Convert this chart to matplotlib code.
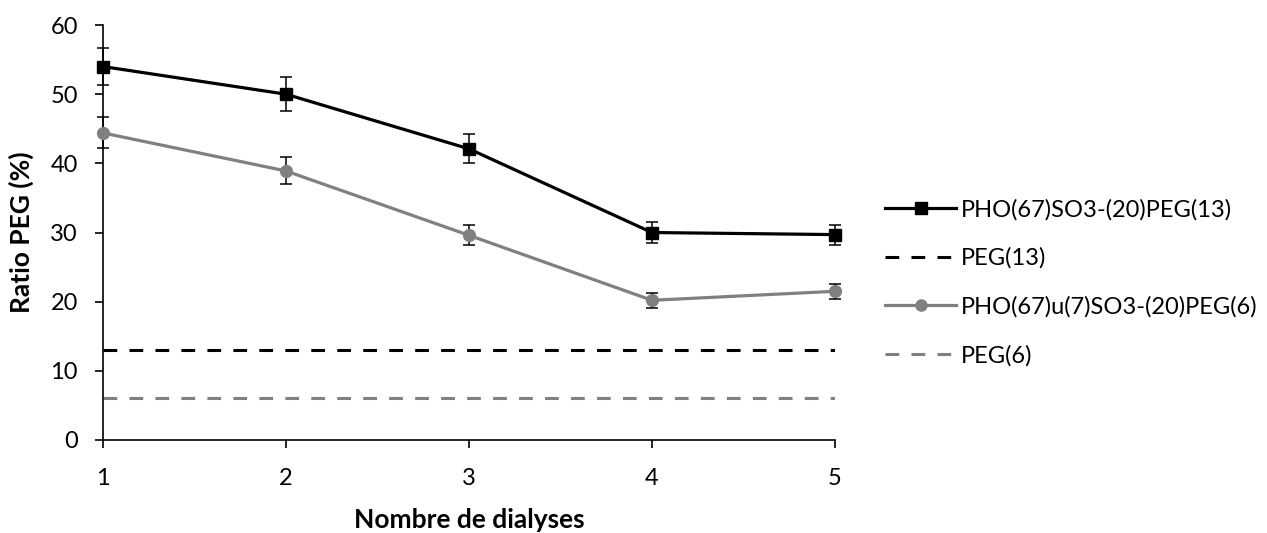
import matplotlib.pyplot as plt
from matplotlib.lines import Line2D

plt.rcParams['font.family'] = ['Lato', 'DejaVu Sans']

dialyses = [1, 2, 3, 4, 5]
peg13_ratio = [54.0, 50.0, 42.1, 30.0, 29.7]
peg13_err = [2.7, 2.5, 2.1, 1.5, 1.45]
peg6_ratio = [44.4, 38.9, 29.6, 20.2, 21.5]
peg6_err = [2.25, 1.95, 1.45, 1.05, 1.1]
peg13_ref = [13, 13, 13, 13, 13]
peg6_ref = [6, 6, 6, 6, 6]

gray = '#808080'
dash = (0, (4.5, 4))

fig = plt.figure(figsize=(12.67, 5.33), dpi=100)
ax = fig.add_axes([0.0813, 0.1745, 0.5777, 0.7785])

ax.errorbar(dialyses, peg13_ratio, yerr=peg13_err, color='black', lw=2.3,
            marker='s', ms=8.5, ecolor='black', elinewidth=1.1, capsize=4,
            capthick=1.1, zorder=4, clip_on=False)
ax.plot(dialyses, peg13_ref, color='black', lw=2.2, ls=dash)
ax.errorbar(dialyses, peg6_ratio, yerr=peg6_err, color=gray, lw=2.3,
            marker='o', ms=8.5, ecolor='black', elinewidth=1.1, capsize=4,
            capthick=1.1, zorder=3, clip_on=False)
ax.plot(dialyses, peg6_ref, color=gray, lw=2.2, ls=dash)

ax.set_xlim(1, 5)
ax.set_ylim(0, 60)
ax.set_xticks(dialyses)
ax.set_yticks(range(0, 61, 10))
ax.spines['top'].set_visible(False)
ax.spines['right'].set_visible(False)
ax.spines['left'].set_linewidth(1.2)
ax.spines['bottom'].set_linewidth(1.2)
ax.tick_params(axis='both', labelsize=17, width=1.2, length=6, direction='out')
ax.tick_params(axis='x', pad=14)
ax.tick_params(axis='y', pad=12)
ax.set_xlabel('Nombre de dialyses', fontsize=19, fontweight='bold', labelpad=14)
ax.set_ylabel('Ratio PEG (%)', fontsize=19, fontweight='bold', labelpad=12)

handles = [
    Line2D([], [], color='black', lw=2.3, marker='s', ms=8),
    Line2D([], [], color='black', lw=2.2, ls=dash),
    Line2D([], [], color=gray, lw=2.3, marker='o', ms=8),
    Line2D([], [], color=gray, lw=2.2, ls=dash),
]
labels = ['PHO(67)SO3-(20)PEG(13)', 'PEG(13)',
          'PHO(67)u(7)SO3-(20)PEG(6)', 'PEG(6)']
fig.legend(handles, labels, loc='center left',
           bbox_to_anchor=(0.682, 0.47), frameon=False, fontsize=17,
           handlelength=3.0, labelspacing=1.15, handletextpad=0.2)

fig.savefig('out.png', dpi=100)
